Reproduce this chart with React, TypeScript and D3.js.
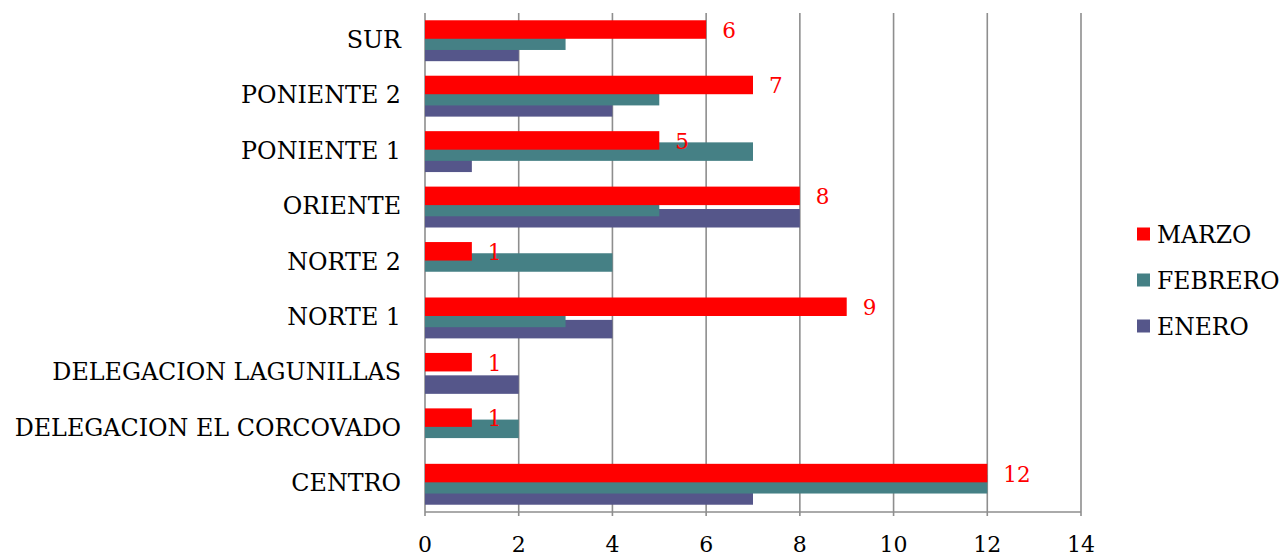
import React from 'react';
import * as d3 from 'd3';

// categories, top to bottom as drawn
const categories = [
  'SUR',
  'PONIENTE 2',
  'PONIENTE 1',
  'ORIENTE',
  'NORTE 2',
  'NORTE 1',
  'DELEGACION LAGUNILLAS',
  'DELEGACION EL CORCOVADO',
  'CENTRO',
];

const marzo = [6, 7, 5, 8, 1, 9, 1, 1, 12];
const febrero = [3, 5, 7, 5, 4, 3, 0, 2, 12];
const enero = [2, 4, 1, 8, 0, 4, 2, 0, 7];

const xTicks = [0, 2, 4, 6, 8, 10, 12, 14];

// drawn bottom first so MARZO sits on top
const series = [
  { name: 'ENERO', values: enero, color: '#55568a', slot: 2 },
  { name: 'FEBRERO', values: febrero, color: '#458085', slot: 1 },
  { name: 'MARZO', values: marzo, color: '#ff0000', slot: 0 },
];
const legendOrder = ['MARZO', 'FEBRERO', 'ENERO'];

const W = 1286;
const H = 556;
const FONT = '"DejaVu Serif", Georgia, serif';

const App = () => {
  const left = 425;
  const right = 1081;
  const top = 13;
  const bottom = 512;

  const x = d3.scaleLinear().domain([0, 14]).range([left, right]);
  const y = d3.scaleBand().domain(categories).range([top, bottom]);

  const barH = 18.5;
  const step = 11.2;
  const groupH = barH + step * 2;

  const barY = (cat: string, slot: number) =>
    (y(cat) as number) + y.bandwidth() / 2 - groupH / 2 + slot * step;

  return (
    <svg width={W} height={H} style={{ position: 'absolute', left: 0, top: 0, background: '#fff' }}>
      {/* gridlines */}
      <g stroke="#8e8e8e" strokeWidth={1.6}>
        {xTicks.map(t => (
          <line key={t} x1={x(t)} x2={x(t)} y1={top} y2={bottom + 4} />
        ))}
        <line x1={left} x2={right} y1={bottom} y2={bottom} />
      </g>

      {/* bars */}
      {series.map(s => (
        <g key={s.name} fill={s.color}>
          {categories.map((c, i) =>
            s.values[i] > 0 ? (
              <rect
                key={c}
                x={x(0)}
                y={barY(c, s.slot)}
                width={x(s.values[i]) - x(0)}
                height={barH}
              />
            ) : null
          )}
        </g>
      ))}

      {/* data labels for MARZO */}
      <g fill="#ff0000" fontFamily={FONT} fontSize={21.5}>
        {categories.map((c, i) => (
          <text key={c} x={x(marzo[i]) + 16} y={barY(c, 0) + barH / 2 + 8.5}>
            {marzo[i]}
          </text>
        ))}
      </g>

      {/* category labels */}
      <g fill="#000" fontFamily={FONT} fontSize={23.8} textAnchor="end">
        {categories.map(c => (
          <text key={c} x={401} y={(y(c) as number) + y.bandwidth() / 2 + 7}>
            {c}
          </text>
        ))}
      </g>

      {/* x tick labels */}
      <g fill="#000" fontFamily={FONT} fontSize={22} textAnchor="middle">
        {xTicks.map(t => (
          <text key={t} x={x(t)} y={552}>
            {t}
          </text>
        ))}
      </g>

      {/* legend */}
      <g fontFamily={FONT} fontSize={23.5}>
        {legendOrder.map((name, i) => {
          const s = series.find(d => d.name === name)!;
          const ly = 234 + i * 46;
          return (
            <g key={name}>
              <rect x={1137} y={ly - 6.5} width={13} height={13} fill={s.color} />
              <text x={1157} y={ly + 8.5} fill="#000">
                {name}
              </text>
            </g>
          );
        })}
      </g>
    </svg>
  );
};

export default App;
